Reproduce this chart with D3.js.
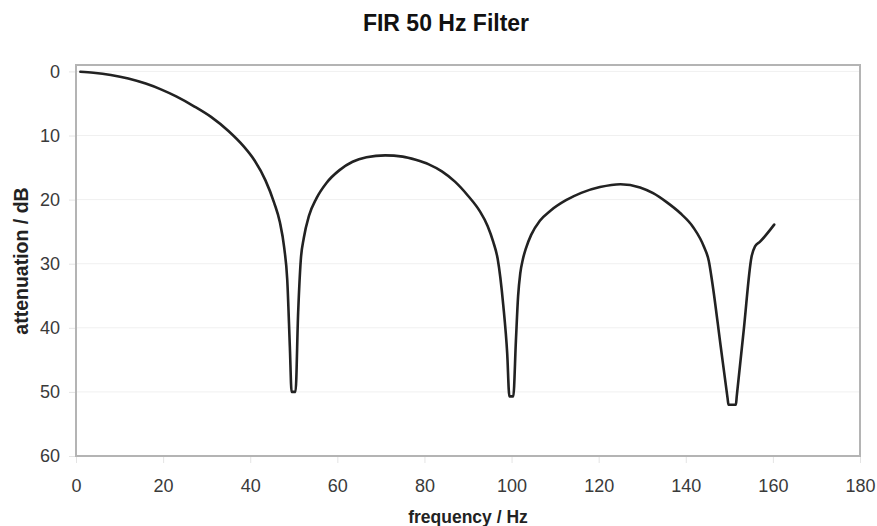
<!DOCTYPE html>
<html><head><meta charset="utf-8">
<script src="https://cdn.jsdelivr.net/npm/d3@7"></script>
<style>
body{margin:0;background:#fff}
svg{display:block}
text{font-family:"Liberation Sans",Arial,Helvetica,sans-serif}
</style>
</head><body>
<svg id="chart" width="877" height="526"></svg>
<script>
const chartTitle = "FIR 50 Hz Filter";
const xLabel = "frequency / Hz";
const yLabel = "attenuation / dB";
const frequency = [1,4,8,12,16,19.5,23,27,31,35,38.5,41,43.5,45.5,46.8,47.8,48.5,49.1,49.5,50.4,
  51,51.6,52.3,53.5,55.2,57.5,60.5,63.5,66.7,71,75,78,81,84,87,90,92.7,94.5,95.8,96.8,
  98.1,99,99.5,100.4,101,101.5,102,102.6,103.3,104.5,106.5,109,112.5,116,120.3,125,129.5,132.5,135.6,138.7,141.7,
  144.2,145.3,146.1,148,149.6,149.8,151.5,151.7,153.3,155.1,155.9,157,160.3];
const attenuation = [0.05,0.2,0.55,1.1,1.9,2.8,3.9,5.4,7.1,9.3,11.7,13.9,17.0,20.5,23.5,27.5,32.5,43,50,50,
  37.7,29.5,26,22.5,19.8,17.4,15.4,14.1,13.4,13.1,13.3,13.8,14.5,15.6,17.2,19.4,21.8,24.1,26.6,29.2,
  36.5,44,50.7,50.7,42,35.1,31.5,29.3,27.6,25.5,23.3,21.7,20.1,18.95,18.05,17.6,18.1,19.0,20.4,22.1,24.3,
  27.4,29.6,33,42.8,51.0,52,52,50.7,40.4,28.9,27.3,26.6,23.9];
const xTicks = [0,20,40,60,80,100,120,140,160,180];
const yTicks = [0,10,20,30,40,50,60];

const W = 877, H = 526;
const m = {left:76, top:65, right:17, bottom:70};
const svg = d3.select("#chart");
const x = d3.scaleLinear().domain([0,180]).range([m.left, W - m.right]);
const y = d3.scaleLinear().domain([-1,60]).range([m.top, H - m.bottom]);

// gridlines
svg.append("g").selectAll("line").data(yTicks).join("line")
  .attr("x1", m.left).attr("x2", W - m.right)
  .attr("y1", d => y(d)).attr("y2", d => y(d))
  .attr("stroke", "#f0f0f0").attr("stroke-width", 1);

// axes
const yAxis = svg.append("g").attr("transform", `translate(${m.left},0)`)
  .call(d3.axisLeft(y).tickValues(yTicks).tickSize(7).tickPadding(9));
const xAxis = svg.append("g").attr("transform", `translate(0,${H - m.bottom})`)
  .call(d3.axisBottom(x).tickValues(xTicks).tickSize(7).tickPadding(16));
[xAxis, yAxis].forEach(g => {
  g.select(".domain").remove();
  g.selectAll(".tick line").attr("stroke", "#e4e4e4");
  g.selectAll(".tick text").attr("fill", "#3a3a3a").style("font-size", "18px");
});

// frame
svg.append("rect")
  .attr("x", m.left).attr("y", m.top)
  .attr("width", W - m.left - m.right).attr("height", H - m.top - m.bottom)
  .attr("fill", "none").attr("stroke", "#b4b4b4").attr("stroke-width", 2);

// curve
const pts = frequency.map((f, i) => [f, attenuation[i]]);
svg.append("path").datum(pts)
  .attr("fill", "none").attr("stroke", "#222").attr("stroke-width", 2.6)
  .attr("stroke-linejoin", "round").attr("stroke-linecap", "round")
  .attr("d", d3.line().x(d => x(d[0])).y(d => y(d[1])).curve(d3.curveMonotoneX));

// titles
svg.append("text").attr("x", 446).attr("y", 31).attr("text-anchor", "middle")
  .style("font-size", "23px").style("font-weight", "bold").attr("fill", "#111").text(chartTitle);
svg.append("text").attr("x", 468).attr("y", 523).attr("text-anchor", "middle")
  .style("font-size", "17.5px").style("font-weight", "bold").attr("fill", "#222").text(xLabel);
svg.append("text").attr("transform", "translate(28,261) rotate(-90)").attr("text-anchor", "middle")
  .style("font-size", "19.5px").style("font-weight", "bold").attr("fill", "#222").text(yLabel);
</script>
</body></html>
